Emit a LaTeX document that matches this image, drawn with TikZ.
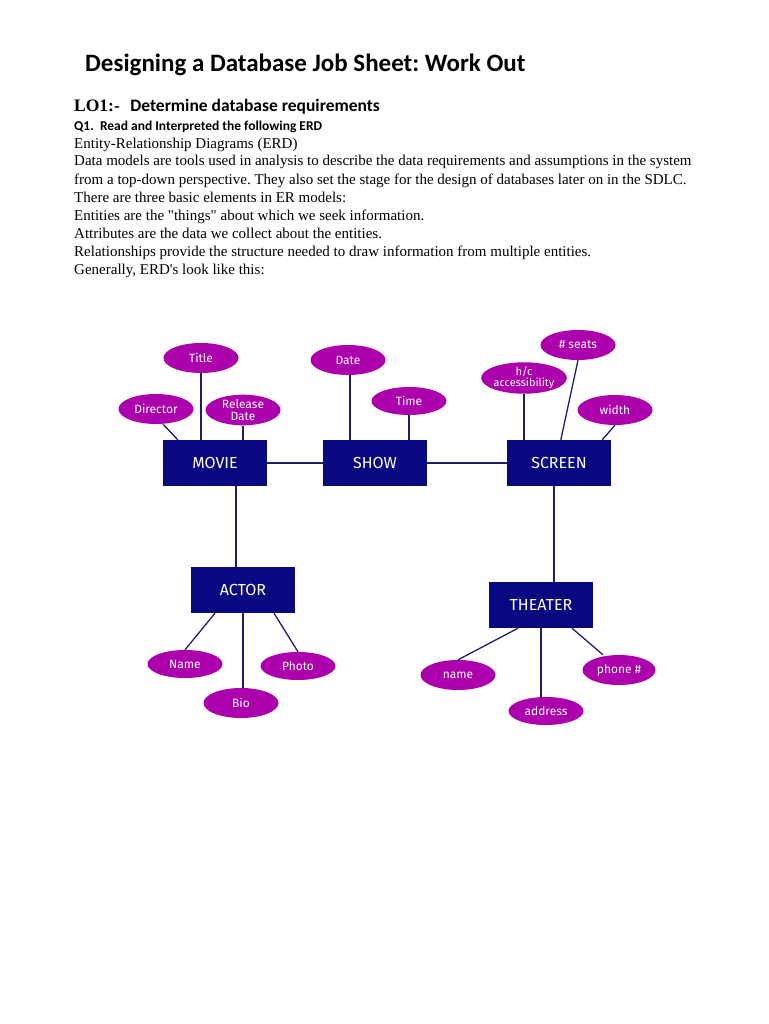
\documentclass[tikz,border=0pt]{standalone}
\usepackage{fontspec}
\setmainfont{Liberation Serif}
\newfontfamily\calibri{Carlito}
\newfontfamily\erdfont{Fira Sans}
\usetikzlibrary{shapes.geometric}
\definecolor{entityblue}{RGB}{8,8,128}
\definecolor{attrpink}{RGB}{172,0,172}
\definecolor{linkblue}{RGB}{30,30,110}
\frenchspacing
\begin{document}
\begin{tikzpicture}[
    x=1pt, y=-1pt,
    entity/.style={rectangle, fill=entityblue, text=white, minimum width=104pt, minimum height=46pt, inner sep=0pt, font=\erdfont\fontsize{16}{18}\selectfont},
    attr/.style={ellipse, fill=attrpink, text=white, minimum width=75pt, minimum height=30pt, inner sep=0pt, align=center, font=\erdfont\fontsize{12}{12.5}\selectfont},
    link/.style={draw=linkblue, line width=1.3pt}
]
    \useasboundingbox (0,0) rectangle (768,1024);

    % header text
    \node[anchor=base west, inner sep=0pt, font=\calibri\bfseries\fontsize{25}{30}\selectfont] (title) at (85,72) {Designing a Database Job Sheet: Work Out};
    \node[anchor=base west, inner sep=0pt, font=\fontsize{17.5}{21}\selectfont] (lo) at (74,112) {\textbf{LO1:-}\hspace{0.6em}{\calibri\bfseries Determine database requirements}};
    \node[anchor=base west, inner sep=0pt, font=\calibri\bfseries\fontsize{13.5}{16}\selectfont] (q) at (74,131) {Q1.\ \ Read and Interpreted the following ERD};
    \node[anchor=base west, inner sep=0pt, align=left, font=\fontsize{15}{18}\selectfont] (intro) at (74,274) {Entity-Relationship Diagrams (ERD)\\
        Data models are tools used in analysis to describe the data requirements and assumptions in the system\\
        from a top-down perspective. They also set the stage for the design of databases later on in the SDLC.\\
        There are three basic elements in ER models:\\
        Entities are the \textquotedbl things\textquotedbl{} about which we seek information.\\
        Attributes are the data we collect about the entities.\\
        Relationships provide the structure needed to draw information from multiple entities.\\
        Generally, ERD\textquotesingle s look like this:};

    % entities
    \node[entity] (movie) at (215,463) {MOVIE};
    \node[entity] (show) at (375,463) {SHOW};
    \node[entity] (screen) at (559,463) {SCREEN};
    \node[entity] (actor) at (243,590) {ACTOR};
    \node[entity] (theater) at (541,605) {THEATER};

    % attributes
    \node[attr] (title2) at (201,358) {Title};
    \node[attr] (director) at (156,409) {Director};
    \node[attr] (release) at (243,410) {Release\\Date};
    \node[attr] (date) at (348,360) {Date};
    \node[attr, minimum height=28pt] (time) at (409,401) {Time};
    \node[attr, font=\erdfont\fontsize{11}{11}\selectfont] (hc) at (524,378) {h/c\\accessibility};
    \node[attr] (seats) at (578,345) {\# seats};
    \node[attr] (width) at (615,410) {width};
    \node[attr, minimum height=28pt] (name) at (185,664) {Name};
    \node[attr, minimum height=28pt] (photo) at (298,666) {Photo};
    \node[attr] (bio) at (241,703) {Bio};
    \node[attr] (tname) at (458,675) {name};
    \node[attr, minimum width=73pt] (phone) at (619,670) {phone \#};
    \node[attr, minimum height=28pt] (address) at (546,711) {address};

    % relationships
    \draw[link] (movie) -- (show);
    \draw[link] (show) -- (screen);
    \draw[link] ([xshift=21pt]movie.south) -- ([xshift=-7pt]actor.north);
    \draw[link] ([xshift=-5pt]screen.south) -- ([xshift=13pt]theater.north);

    % attribute links
    \draw[link] (title2.south) -- (title2.south |- movie.north);
    \draw[link] ([xshift=7pt]director.south) -- ([xshift=15pt]movie.north west);
    \draw[link] (release.south) -- (release.south |- movie.north);
    \draw[link] ([xshift=2pt]date.south) -- ([xshift=2pt]date.south |- show.north);
    \draw[link] (time.south) -- (time.south |- show.north);
    \draw[link] (hc.south) -- (hc.south |- screen.north);
    \draw[link] (seats.south) -- ([xshift=54pt]screen.north west);
    \draw[link] (width.south) -- ([xshift=-9pt]screen.north east);
    \draw[link] ([xshift=-28pt]actor.south) -- (name.north);
    \draw[link] (bio.north -| actor.south) -- (actor.south);
    \draw[link] ([xshift=31pt]actor.south) -- (photo.north);
    \draw[link] ([xshift=-23pt]theater.south) -- (tname.north);
    \draw[link] (address.north -| theater.south) -- (theater.south);
    \draw[link] ([xshift=31pt]theater.south) -- ([xshift=-16pt]phone.north);
\end{tikzpicture}
\end{document}
